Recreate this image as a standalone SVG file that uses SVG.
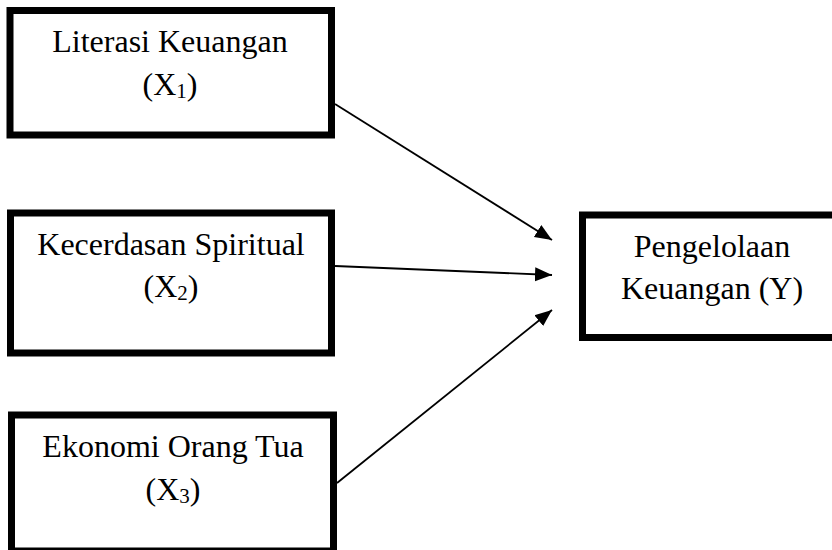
<svg xmlns="http://www.w3.org/2000/svg" width="832" height="550" viewBox="0 0 832 550">
<style>
.box{fill:#fff;stroke:#000;stroke-width:7}
.t{font-family:"Liberation Serif","Times New Roman",serif;font-size:32px;fill:#000;text-anchor:middle}
.sub{font-size:21px}
.c{stroke:#000;stroke-width:1.8;fill:none}
</style>
<defs>
<marker id="ah" markerUnits="userSpaceOnUse" markerWidth="18" markerHeight="16" refX="17" refY="7" orient="auto" viewBox="0 0 18 14">
<polygon points="0,0 17,7 0,14" fill="#000"/>
</marker>
</defs>
<rect width="832" height="550" fill="#fff"/>
<g id="x1">
<rect class="box" x="10" y="10.5" width="321.5" height="124.5"/>
<text class="t" x="170" y="52">Literasi Keuangan</text>
<text class="t" x="170" y="95">(X<tspan class="sub" dy="3">1</tspan><tspan dy="-3">)</tspan></text>
</g>
<g id="x2">
<rect class="box" x="10.5" y="213" width="321" height="140"/>
<text class="t" x="171" y="255">Kecerdasan Spiritual</text>
<text class="t" x="171" y="297">(X<tspan class="sub" dy="3">2</tspan><tspan dy="-3">)</tspan></text>
</g>
<g id="x3">
<rect class="box" x="11.5" y="415" width="322" height="136"/>
<text class="t" x="173" y="457">Ekonomi Orang Tua</text>
<text class="t" x="173" y="500">(X<tspan class="sub" dy="3">3</tspan><tspan dy="-3">)</tspan></text>
</g>
<g id="y">
<rect class="box" x="582.5" y="215" width="270" height="122.5"/>
<text class="t" x="712" y="257">Pengelolaan</text>
<text class="t" x="712" y="299">Keuangan (Y)</text>
</g>
<g id="connectors">
<line class="c" x1="335" y1="104" x2="552" y2="240" marker-end="url(#ah)"/>
<line class="c" x1="335" y1="266" x2="552" y2="275" marker-end="url(#ah)"/>
<line class="c" x1="337" y1="483" x2="552" y2="310" marker-end="url(#ah)"/>
</g>
</svg>
